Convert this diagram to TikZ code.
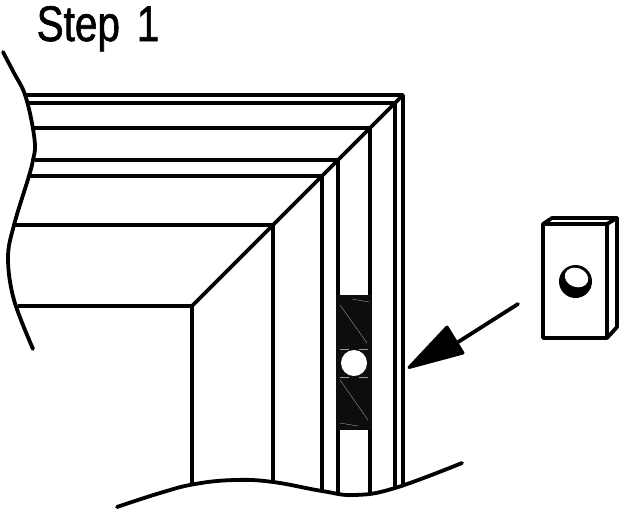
\documentclass[tikz,border=0pt]{standalone}
\usepackage{fontspec}
\setmainfont{Liberation Sans}
\tikzset{
 ln/.style={line width=3.7pt,black,line cap=butt},
 cv/.style={line width=3.8pt,black,line cap=round,line join=round},
 faint/.style={line width=0.4pt,black!40},
}
\begin{document}
\begin{tikzpicture}[x=1pt,y=-1pt]
\useasboundingbox (0,0) rectangle (623,514);
% text
\node[anchor=base west,inner sep=0pt,font=\fontsize{50}{50}\selectfont,xscale=0.81,text=black] (title) at (36.5,41) {\special{pdf:literal direct 2 Tr 0.7 w}Step\hspace{7pt} 1\special{pdf:literal direct 0 Tr}};
% coordinates
\coordinate (c1) at (403,95);
\coordinate (c2) at (395,103);
\coordinate (c3) at (370,128);
\coordinate (c4) at (338,160);
\coordinate (c5) at (322,176);
\coordinate (c6) at (273,225);
\coordinate (c7) at (192,306);
% horizontals
\draw[ln] (25,95) -- (c1);
\draw[ln] (28,103) -- (c2);
\draw[ln] (34,128) -- (c3);
\draw[ln] (35,160) -- (c4);
\draw[ln] (30,176) -- (c5);
\draw[ln] (15,225) -- (c6);
\draw[ln] (18,306) -- (c7);
% mitre
\draw[cv] (c1) -- (c7);
% verticals
\draw[ln] (c1) -- (403,486);
\draw[ln] (c2) -- (395,488);
\draw[ln] (c3) -- (370,494);
\draw[ln] (c4) -- (338,494);
\draw[ln] (c5) -- (322,491);
\draw[ln] (c6) -- (273,482);
\draw[ln] (c7) -- (192,484);
% left break
\draw[cv] plot[smooth,tension=0.6] coordinates {(3,52) (14,73) (24,92) (31,118) (35,145) (33,160) (29,176) (14,225) (8,258) (14,300) (33,349)};
% bottom break
\draw[cv] plot[smooth,tension=0.7] coordinates {(117,507) (160,493) (195,484) (235,480) (273,482) (322,491) (355,495) (395,488) (462,463)};
% clip plate
\fill[black!95] (336,295) rectangle (372,430);
\fill[white] (354,363) circle (13);
\draw[faint] (340,305) -- (367,343) (340,380) -- (368,420) (352,299) -- (369,302) (340,423) -- (358,426);
\draw[faint] (340,349) -- (349,349) (359,349) -- (368,349) (340,377) -- (349,377) (359,377) -- (368,377);
% arrow
\draw[cv] (518,304) -- (455,344);
\filldraw[black,line width=3pt,line join=round] (409,367.5) -- (447,327) -- (463,353) -- cycle;
% block
\draw[cv] (543,224) rectangle (607,338);
\draw[cv] (543,224) -- (552,218) -- (617,218) -- (607,224);
\draw[cv] (617,218) -- (617,327) -- (607,338);
\fill[black] (575.5,281.5) circle (16.5);
\fill[white,rotate around={-20:(576.5,277.5)}] (576.5,277.5) ellipse (12 and 9.5);
\end{tikzpicture}
\end{document}
